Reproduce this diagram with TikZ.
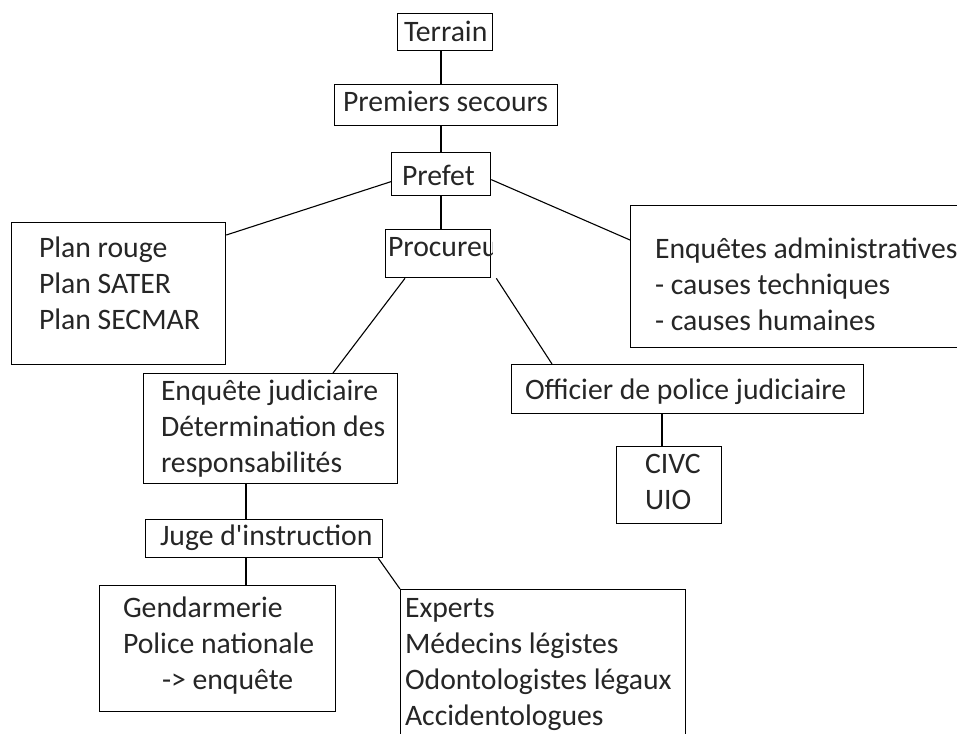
\documentclass[tikz,border=0pt]{standalone}
\usepackage{fontspec}
\setmainfont{Carlito}[Ligatures=TeXOff]
\usetikzlibrary{calc}
\tikzset{
  box/.style={draw, line width=1.3pt, inner sep=0pt, anchor=north west, fill=none},
  txt/.style={inner sep=0pt, outer sep=0pt, anchor=north west, align=left,
              font=\fontsize{29.7}{36}\selectfont, text=black!85},
  link/.style={line width=1.1pt}
}
\begin{document}
\begin{tikzpicture}[x=1pt,y=-1pt]
\clip (0,0) rectangle (957,733);
\fill[white] (0,0) rectangle (957,733);
% boxes
\node[box, minimum width=95, minimum height=37] (terrain) at (397,13) {};
\node[box, minimum width=223, minimum height=41] (premiers) at (334,84) {};
\node[box, minimum width=99, minimum height=43] (prefet) at (391,152) {};
\node[box, minimum width=105, minimum height=48] (proc) at (385,229) {};
\node[box, minimum width=214, minimum height=142] (plan) at (11,222) {};
\node[box, minimum width=335, minimum height=142] (enq) at (630,205) {};
\node[box, minimum width=254, minimum height=110] (ejud) at (143,373) {};
\node[box, minimum width=352, minimum height=49] (off) at (511,364) {};
\node[box, minimum width=105, minimum height=77] (civc) at (616,446) {};
\node[box, minimum width=237, minimum height=38] (juge) at (145,519) {};
\node[box, minimum width=236, minimum height=126] (gend) at (99,585) {};
\node[box, minimum width=285, minimum height=160] (exp) at (400,589) {};
% texts (first baseline minus 25.2)
\node[txt] (terrain-t) at (404,16.8) {\strut Terrain};
\node[txt] (premiers-t) at (343,86.8) {\strut Premiers secours};
\node[txt] (prefet-t) at (402,159.8) {\strut Prefet};
\begin{scope}
\clip (proc.north west) rectangle ([xshift=1pt]proc.south east);
\node[txt] (proc-t) at (388,231.3) {\strut Procureur};
\end{scope}
\node[txt] (plan-t) at (39,231.8) {\strut Plan rouge\\\strut Plan SATER\\\strut Plan SECMAR};
\node[txt] (enq-t) at (655,232.8) {\strut Enquêtes administratives\\\strut - causes techniques\\\strut - causes humaines};
\node[txt] (ejud-t) at (161,374.8) {\strut Enquête judiciaire\\\strut Détermination des\\\strut responsabilités};
\node[txt] (off-t) at (525,373.8) {\strut Officier de police judiciaire};
\node[txt] (civc-t) at (645,447.8) {\strut CIVC\\\strut UIO};
\node[txt] (juge-t) at (160,519.8) {\strut Juge d'instruction};
\node[txt] (gend-t) at (123,591.8) {\strut Gendarmerie\\\strut Police nationale\\\strut\hspace*{39pt}-> enquête};
\node[txt] (exp-t) at (405,591.8) {\strut Experts\\\strut Médecins légistes\\\strut Odontologistes légaux\\\strut Accidentologues};
% connectors
\draw[link] ([xshift=44pt]terrain.south west) -- ([xshift=44pt]terrain.south west |- premiers.north);
\draw[link] ([xshift=50pt]prefet.north west |- premiers.south) -- ([xshift=50pt]prefet.north west);
\draw[link] ([xshift=50pt]prefet.south west) -- ([xshift=50pt]prefet.south west |- proc.north);
\draw[link] ([yshift=-7.5pt]prefet.west) -- ([yshift=-13pt]plan.north east);
\draw[link] ([yshift=-5.5pt]prefet.east) -- ([yshift=-35pt]enq.north west);
\draw[link] ([xshift=20pt]proc.south west) -- ([xshift=190pt]ejud.north west);
\draw[link] ([xshift=5pt]proc.south east) -- ([xshift=41pt]off.north west);
\draw[link] ([xshift=46pt]civc.north west |- off.south) -- ([xshift=46pt]civc.north west);
\draw[link] ([xshift=101pt]juge.north west |- ejud.south) -- ([xshift=101pt]juge.north west);
\draw[link] ([xshift=101pt]juge.south west) -- ([xshift=101pt]juge.south west |- gend.north);
\draw[link] ([xshift=-5pt]juge.south east) -- (exp.north west);
\end{tikzpicture}
\end{document}
